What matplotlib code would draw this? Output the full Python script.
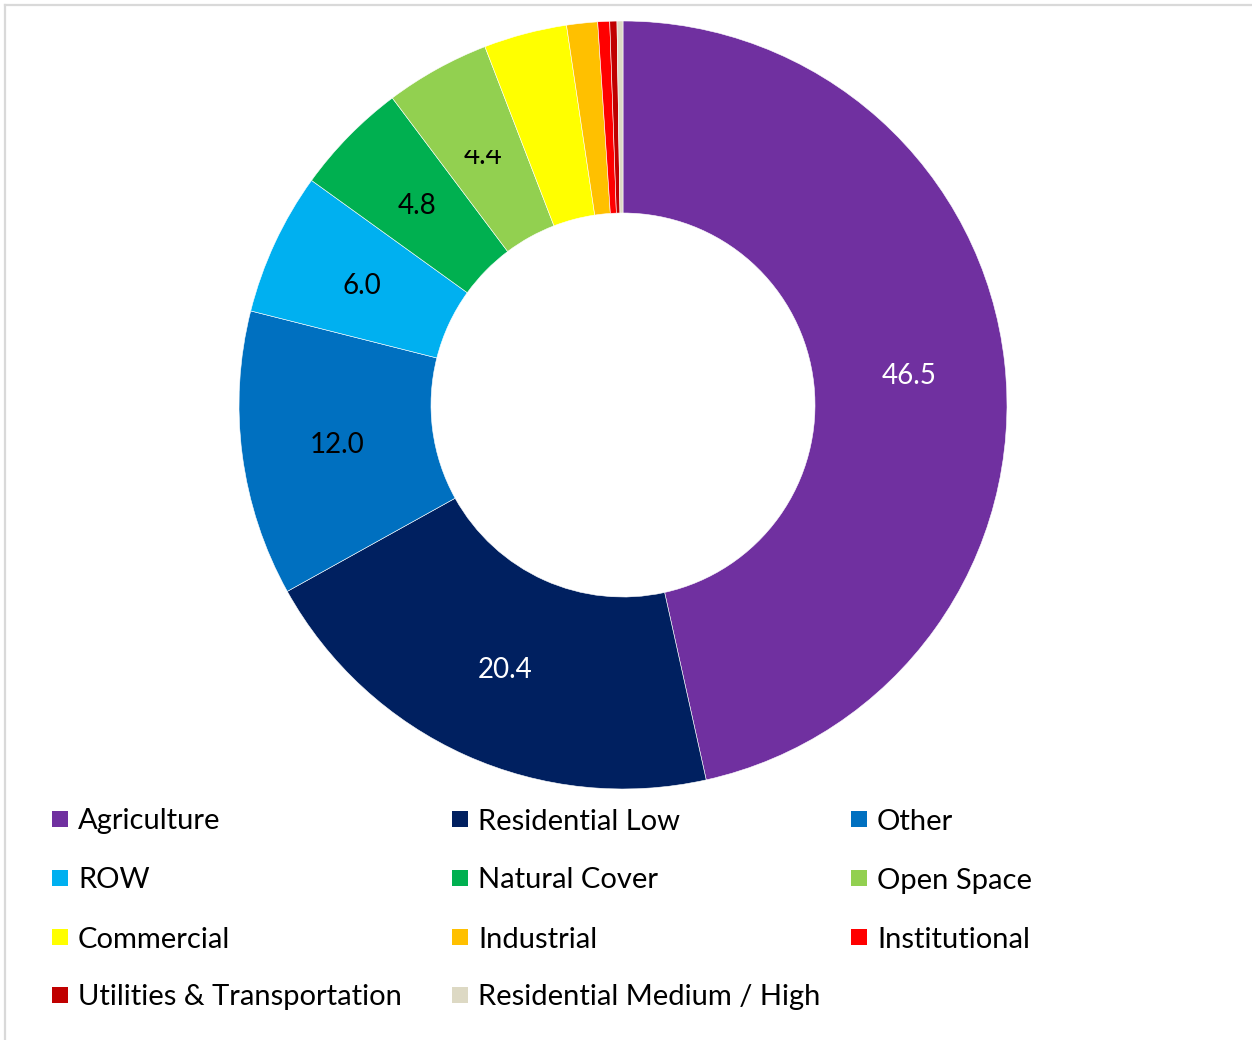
import numpy as np
import matplotlib.pyplot as plt
from matplotlib.patches import Rectangle
from matplotlib.lines import Line2D
from matplotlib.transforms import Bbox, TransformedBbox

plt.rcParams["font.family"] = ["Lato", "DejaVu Sans"]

categories = [
    "Agriculture", "Residential Low", "Other", "ROW", "Natural Cover",
    "Open Space", "Commercial", "Industrial", "Institutional",
    "Utilities & Transportation", "Residential Medium / High",
]
shares = [46.5, 20.4, 12.0, 6.0, 4.8, 4.4, 3.5, 1.3, 0.5, 0.3, 0.25]
colors = [
    "#7030A0", "#002060", "#0070C0", "#00B0F0", "#00B050",
    "#92D050", "#FFFF00", "#FFC000", "#FF0000", "#C00000", "#DDD9C4",
]
# only the larger slices carry a value label
label_colors = ["white", "white", "black", "black", "black", "black",
                None, None, None, None, None]

W, H = 1252, 1040
fig = plt.figure(figsize=(W / 100, H / 100), dpi=100)

# chart-area frame (top and left edges visible)
fig.add_artist(Line2D([5 / W, 1], [1 - 5 / H, 1 - 5 / H], color="#D9D9D9",
                      lw=1.6, transform=fig.transFigure))
fig.add_artist(Line2D([5 / W, 5 / W], [0, 1 - 5 / H], color="#D9D9D9",
                      lw=1.6, transform=fig.transFigure))

cx, cy, r = 623, 405, 384
ax = fig.add_axes([(cx - r) / W, (H - cy - r) / H, 2 * r / W, 2 * r / H])

wedges, _ = ax.pie(shares, colors=colors, startangle=90, counterclock=False,
                   radius=1, wedgeprops=dict(width=0.5, edgecolor="white",
                                             linewidth=0.4))
ax.set_xlim(-1, 1)
ax.set_ylim(-1, 1)
ax.set_aspect("equal")
ax.axis("off")

clip = TransformedBbox(Bbox([[-1, -1], [1, 0.664]]), ax.transData)
for w, val, lc in zip(wedges, shares, label_colors):
    if lc is None:
        continue
    ang = np.deg2rad((w.theta1 + w.theta2) / 2)
    t = ax.text(0.75 * np.cos(ang), 0.75 * np.sin(ang), f"{val:.1f}",
                ha="center", va="center_baseline", fontsize=20, color=lc)
    t.set_clip_box(clip)
    t.set_clip_on(True)

# legend laid out in rows of three
col_x = [52, 452, 851]
row_y = [819, 878, 937, 995]
for i, (name, c) in enumerate(zip(categories, colors)):
    x = col_x[i % 3]
    y = row_y[i // 3]
    fig.add_artist(Rectangle((x / W, (H - y - 8) / H), 16 / W, 16 / H,
                             facecolor=c, edgecolor="none",
                             transform=fig.transFigure))
    fig.text((x + 26) / W, (H - y) / H, name, ha="left",
             va="center_baseline", fontsize=21, color="black")

fig.savefig("out.png", dpi=100)
